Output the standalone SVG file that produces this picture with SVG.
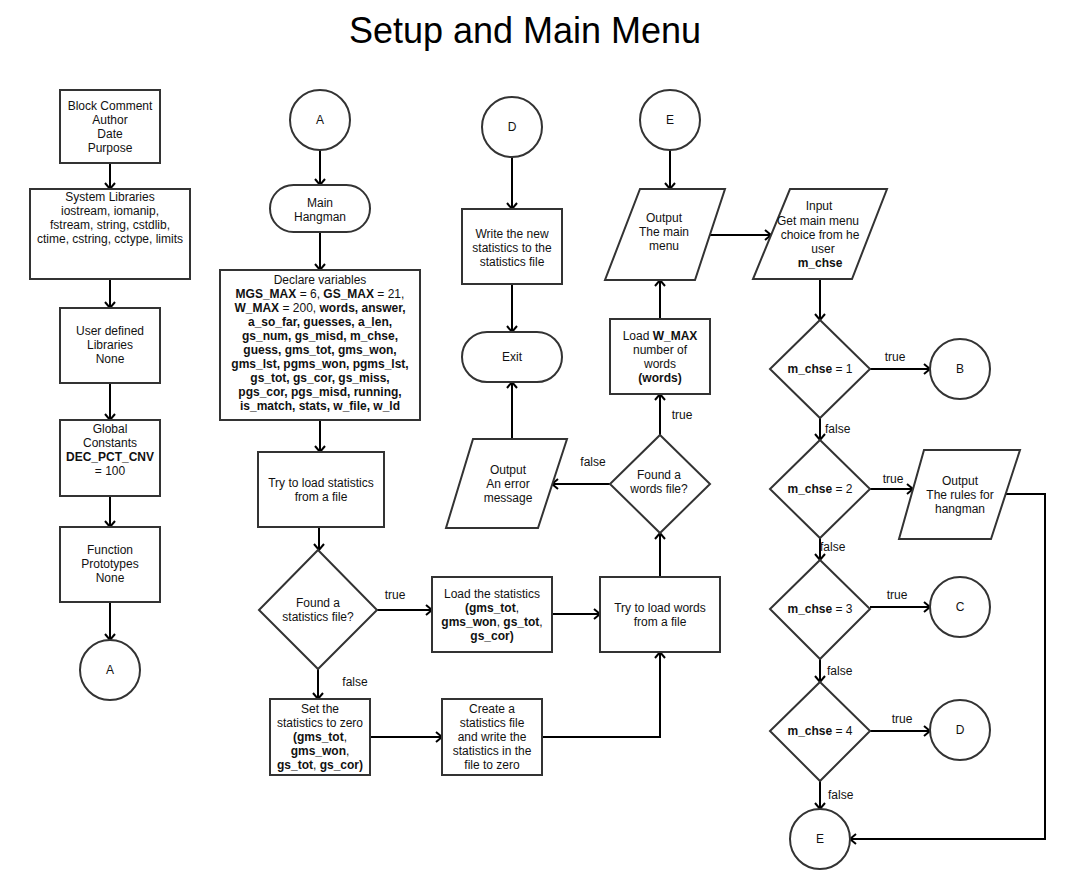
<svg xmlns="http://www.w3.org/2000/svg" width="1069" height="890" viewBox="0 0 1069 890">
<style>
.n{fill:#fff;stroke:#333;stroke-width:2}
.c{fill:none;stroke:#000;stroke-width:2}
text{font-family:"Liberation Sans",Arial,sans-serif;font-size:12px;fill:#111;text-anchor:middle}
.b{font-weight:bold}
.l{text-anchor:start}
.t{font-size:36px;fill:#000}
</style>
<defs>
<marker id="ah" markerUnits="userSpaceOnUse" markerWidth="14" markerHeight="14" refX="10" refY="7" orient="auto">
<path d="M4,2 L10,7 L4,12" fill="none" stroke="#000" stroke-width="2"/>
</marker>
</defs>
<rect width="1069" height="890" fill="#fff"/>
<text class="t" x="525" y="43">Setup and Main Menu</text>

<g id="connectors">
<path class="c" marker-end="url(#ah)" d="M110,163 V189"/>
<path class="c" marker-end="url(#ah)" d="M110,279 V308"/>
<path class="c" marker-end="url(#ah)" d="M110,383 V420"/>
<path class="c" marker-end="url(#ah)" d="M110,496 V527"/>
<path class="c" marker-end="url(#ah)" d="M110,602 V640"/>
<path class="c" marker-end="url(#ah)" d="M320,150 V185"/>
<path class="c" marker-end="url(#ah)" d="M320,232 V270"/>
<path class="c" marker-end="url(#ah)" d="M320,420 V452"/>
<path class="c" marker-end="url(#ah)" d="M319,527 V550"/>
<path class="c" marker-end="url(#ah)" d="M318,669 V699"/>
<path class="c" marker-end="url(#ah)" d="M377,610 H432"/>
<path class="c" marker-end="url(#ah)" d="M552,614 H600"/>
<path class="c" marker-end="url(#ah)" d="M370,737 H442"/>
<path class="c" marker-end="url(#ah)" d="M542,737 H660 V652"/>
<path class="c" marker-end="url(#ah)" d="M660,577 V533"/>
<path class="c" marker-end="url(#ah)" d="M660,435 V394"/>
<path class="c" marker-end="url(#ah)" d="M660,319 V280"/>
<path class="c" marker-end="url(#ah)" d="M670,150 V189"/>
<path class="c" marker-end="url(#ah)" d="M710,235 H771"/>
<path class="c" marker-end="url(#ah)" d="M820,279 V320"/>
<path class="c" marker-end="url(#ah)" d="M610,484 H552"/>
<path class="c" marker-end="url(#ah)" d="M512,439 V382"/>
<path class="c" marker-end="url(#ah)" d="M512,157 V209"/>
<path class="c" marker-end="url(#ah)" d="M512,284 V332"/>
<path class="c" marker-end="url(#ah)" d="M870,369 H930"/>
<path class="c" marker-end="url(#ah)" d="M820,418 V440"/>
<path class="c" marker-end="url(#ah)" d="M870,489 H913"/>
<path class="c" marker-end="url(#ah)" d="M820,538 V560"/>
<path class="c" marker-end="url(#ah)" d="M870,607 H930"/>
<path class="c" marker-end="url(#ah)" d="M820,659 V682"/>
<path class="c" marker-end="url(#ah)" d="M870,731 H930"/>
<path class="c" marker-end="url(#ah)" d="M820,781 V809"/>
<path class="c" marker-end="url(#ah)" d="M1006,494 H1045 V839 H850"/>
<text x="395" y="599">true</text>
<text x="355" y="686">false</text>
<text x="682" y="419">true</text>
<text x="593" y="466">false</text>
<text x="895" y="361">true</text>
<text class="l" x="825" y="433">false</text>
<text x="893" y="483">true</text>
<text class="l" x="820" y="551">false</text>
<text x="897" y="599">true</text>
<text class="l" x="827" y="675">false</text>
<text x="902" y="723">true</text>
<text class="l" x="828" y="799">false</text>
</g>

<g id="block-comment"><rect class="n" x="60" y="90" width="100" height="73"/>
<text x="110" y="110">Block Comment</text><text x="110" y="124">Author</text><text x="110" y="138">Date</text><text x="110" y="152">Purpose</text></g>
<g id="system-libraries"><rect class="n" x="30" y="189" width="160" height="90"/>
<text x="110" y="201">System Libraries</text><text x="110" y="215">iostream, iomanip,</text><text x="110" y="229">fstream, string, cstdlib,</text><text x="110" y="243">ctime, cstring, cctype, limits</text></g>
<g id="user-libraries"><rect class="n" x="60" y="308" width="100" height="75"/>
<text x="110" y="335">User defined</text><text x="110" y="349">Libraries</text><text x="110" y="363">None</text></g>
<g id="global-constants"><rect class="n" x="60" y="420" width="100" height="76"/>
<text x="110" y="433">Global</text><text x="110" y="447">Constants</text><text class="b" x="110" y="461">DEC_PCT_CNV</text><text x="110" y="475">= 100</text></g>
<g id="function-prototypes"><rect class="n" x="60" y="527" width="100" height="75"/>
<text x="110" y="554">Function</text><text x="110" y="568">Prototypes</text><text x="110" y="582">None</text></g>
<g id="conn-a-out"><circle class="n" cx="110" cy="670" r="30"/><text x="110" y="674">A</text></g>

<g id="conn-a-in"><circle class="n" cx="320" cy="120" r="30"/><text x="320" y="124">A</text></g>
<g id="main-hangman"><rect class="n" x="270" y="185" width="100" height="47" rx="23.5"/>
<text x="320" y="207">Main</text><text x="320" y="221">Hangman</text></g>
<g id="declare-variables"><rect class="n" x="220" y="270" width="200" height="150"/>
<text x="320" y="284">Declare variables</text>
<text class="b" x="320" y="298">MGS_MAX<tspan font-weight="normal"> = 6, </tspan>GS_MAX<tspan font-weight="normal"> = 21,</tspan></text>
<text class="b" x="320" y="312">W_MAX<tspan font-weight="normal"> = 200, </tspan>words, answer,</text>
<text class="b" x="320" y="326">a_so_far, guesses, a_len,</text>
<text class="b" x="320" y="340">gs_num, gs_misd, m_chse,</text>
<text class="b" x="320" y="354">guess, gms_tot, gms_won,</text>
<text class="b" x="320" y="368">gms_lst, pgms_won, pgms_lst,</text>
<text class="b" x="320" y="382">gs_tot, gs_cor, gs_miss,</text>
<text class="b" x="320" y="396">pgs_cor, pgs_misd, running,</text>
<text class="b" x="320" y="410">is_match, stats, w_file, w_ld</text></g>
<g id="try-load-stats"><rect class="n" x="258" y="452" width="126" height="75"/>
<text x="321" y="487">Try to load statistics</text><text x="321" y="501">from a file</text></g>
<g id="found-stats"><polygon class="n" points="318,550 377,610 318,669 259,610"/>
<text x="318" y="607">Found a</text><text x="318" y="621">statistics file?</text></g>
<g id="load-stats"><rect class="n" x="432" y="577" width="120" height="75"/>
<text x="492" y="598">Load the statistics</text><text class="b" x="492" y="612">(gms_tot<tspan font-weight="normal">,</tspan></text><text class="b" x="492" y="626">gms_won<tspan font-weight="normal">, </tspan>gs_tot<tspan font-weight="normal">,</tspan></text><text class="b" x="492" y="640">gs_cor)</text></g>
<g id="set-stats-zero"><rect class="n" x="270" y="699" width="100" height="76"/>
<text x="320" y="713">Set the</text><text x="320" y="727">statistics to zero</text><text class="b" x="320" y="741">(gms_tot<tspan font-weight="normal">,</tspan></text><text class="b" x="320" y="755">gms_won<tspan font-weight="normal">,</tspan></text><text class="b" x="320" y="769">gs_tot<tspan font-weight="normal">, </tspan>gs_cor)</text></g>
<g id="create-stats-file"><rect class="n" x="442" y="699" width="100" height="76"/>
<text x="492" y="713">Create a</text><text x="492" y="727">statistics file</text><text x="492" y="741">and write the</text><text x="492" y="755">statistics in the</text><text x="492" y="769">file to zero</text></g>
<g id="try-load-words"><rect class="n" x="600" y="577" width="120" height="75"/>
<text x="660" y="612">Try to load words</text><text x="660" y="626">from a file</text></g>
<g id="found-words"><polygon class="n" points="660,435 710,484 660,533 610,484"/>
<text x="659" y="479">Found a</text><text x="659" y="493">words file?</text></g>
<g id="error-message"><polygon class="n" points="473,439 567,439 538,528 446,528"/>
<text x="508" y="474">Output</text><text x="508" y="488">An error</text><text x="508" y="502">message</text></g>
<g id="conn-d-in"><circle class="n" cx="512" cy="127" r="30"/><text x="512" y="131">D</text></g>
<g id="write-stats"><rect class="n" x="462" y="209" width="100" height="75"/>
<text x="512" y="238">Write the new</text><text x="512" y="252">statistics to the</text><text x="512" y="266">statistics file</text></g>
<g id="exit"><rect class="n" x="462" y="332" width="100" height="50" rx="25"/><text x="512" y="361">Exit</text></g>
<g id="conn-e-in"><circle class="n" cx="670" cy="120" r="30"/><text x="670" y="124">E</text></g>
<g id="output-menu"><polygon class="n" points="640,189 725,189 695,280 605,280"/>
<text x="664" y="222">Output</text><text x="664" y="236">The main</text><text x="664" y="250">menu</text></g>
<g id="load-words"><rect class="n" x="610" y="319" width="100" height="75"/>
<text x="660" y="340">Load <tspan class="b">W_MAX</tspan></text><text x="660" y="354">number of</text><text x="660" y="368">words</text><text class="b" x="660" y="382">(words)</text></g>
<g id="input-choice"><polygon class="n" points="790,189 887,189 852,279 753,279"/>
<text x="819" y="210">Input</text><text x="818" y="225">Get main menu</text><text x="820" y="239">choice from he</text><text x="823" y="253">user</text><text class="b" x="820" y="267">m_chse</text></g>
<g id="dec-1"><polygon class="n" points="820,320 870,369 820,418 770,369"/><text x="820" y="373"><tspan class="b">m_chse</tspan> = 1</text></g>
<g id="conn-b"><circle class="n" cx="960" cy="369" r="30"/><text x="960" y="373">B</text></g>
<g id="dec-2"><polygon class="n" points="820,440 870,489 820,538 770,489"/><text x="820" y="493"><tspan class="b">m_chse</tspan> = 2</text></g>
<g id="output-rules"><polygon class="n" points="924,450 1020,450 991,539 899,539"/>
<text x="960" y="485">Output</text><text x="960" y="499">The rules for</text><text x="960" y="513">hangman</text></g>
<g id="dec-3"><polygon class="n" points="820,560 870,609 820,659 770,609"/><text x="820" y="613"><tspan class="b">m_chse</tspan> = 3</text></g>
<g id="conn-c"><circle class="n" cx="960" cy="607" r="30"/><text x="960" y="611">C</text></g>
<g id="dec-4"><polygon class="n" points="820,682 870,731 820,781 770,731"/><text x="820" y="735"><tspan class="b">m_chse</tspan> = 4</text></g>
<g id="conn-d-out"><circle class="n" cx="960" cy="730" r="30"/><text x="960" y="734">D</text></g>
<g id="conn-e-out"><circle class="n" cx="820" cy="839" r="30"/><text x="820" y="843">E</text></g>
</svg>
